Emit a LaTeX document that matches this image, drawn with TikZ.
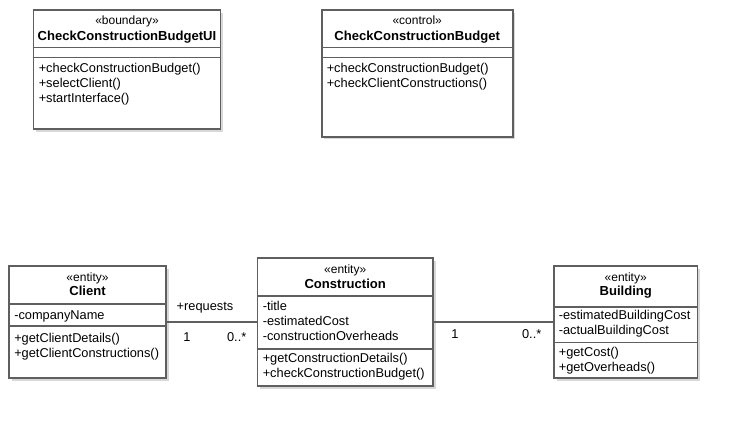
\documentclass[tikz,border=0pt]{standalone}
\usepackage{fontspec}
\setmainfont{Liberation Sans}
\usepackage{tikz}
\usetikzlibrary{fit,shadows}
\definecolor{umlline}{HTML}{5F5F5F}

\begin{document}
\begin{tikzpicture}[
    x=0.75pt, y=-0.75pt,
    classbox/.style={
        draw=umlline,
        line width=1.2pt,
        fill=white,
        inner sep=0pt,
        drop shadow={shadow xshift=2pt, shadow yshift=-2pt, fill=black!25, opacity=0.6}
    },
    divider/.style={draw=umlline, line width=1.2pt},
    stereo/.style={anchor=base, inner sep=0pt, font=\fontsize{9}{10}\selectfont},
    cname/.style={anchor=base, inner sep=0pt, font=\fontsize{9.8}{11}\selectfont\bfseries},
    members/.style={anchor=base west, inner sep=0pt, align=left, font=\fontsize{9.6}{11.25}\selectfont},
    mult/.style={anchor=base, inner sep=0pt, font=\fontsize{9.6}{11}\selectfont},
    assoc/.style={draw=umlline, line width=0.9pt}
]
\fill[white] (0,0) rectangle (737,426);
\useasboundingbox (0,0) rectangle (737,426);

\node[classbox, fit={(33.5,10) (220.5,129)}] (ui) {};
\node[stereo] (uiStereo) at (127,24.5) {«boundary»};
\node[cname] (uiName) at (127,40) {CheckConstructionBudgetUI};
\draw[divider] (ui.west |- 0,47.5) -- (ui.east |- 0,47.5);
\draw[divider] (ui.west |- 0,57.3) -- (ui.east |- 0,57.3);
\node[members] (uiOps) at (38.5,102.5)
  {+checkConstructionBudget()\\+selectClient()\\+startInterface()};

\node[classbox, fit={(321.7,10) (512.7,136.7)}] (ctrl) {};
\node[stereo] (ctrlStereo) at (417.2,24.5) {«control»};
\node[cname] (ctrlName) at (417.2,40) {CheckConstructionBudget};
\draw[divider] (ctrl.west |- 0,47.5) -- (ctrl.east |- 0,47.5);
\draw[divider] (ctrl.west |- 0,57.3) -- (ctrl.east |- 0,57.3);
\node[members] (ctrlOps) at (326.5,87.5)
  {+checkConstructionBudget()\\+checkClientConstructions()};

\node[classbox, fit={(9,266) (166,378)}] (client) {};
\node[stereo] (clientStereo) at (87.5,281) {«entity»};
\node[cname] (clientName) at (87.5,295.5) {Client};
\draw[divider] (client.west |- 0,304) -- (client.east |- 0,304);
\node[members] (clientAttrs) at (14,319) {-companyName};
\draw[divider] (client.west |- 0,326) -- (client.east |- 0,326);
\node[members] (clientOps) at (14,357)
  {+getClientDetails()\\+getClientConstructions()};

\node[classbox, fit={(257.5,258) (433,386)}] (constr) {};
\node[stereo] (constrStereo) at (345.2,273.5) {«entity»};
\node[cname] (constrName) at (345.2,288) {Construction};
\draw[divider] (constr.west |- 0,296) -- (constr.east |- 0,296);
\node[members] (constrAttrs) at (262.5,340.7)
  {-title\\-estimatedCost\\-constructionOverheads};
\draw[divider] (constr.west |- 0,348.7) -- (constr.east |- 0,348.7);
\node[members] (constrOps) at (262.5,377.9)
  {+getConstructionDetails()\\+checkConstructionBudget()};

\node[classbox, fit={(554,266) (697.3,378)}] (bldg) {};
\node[stereo] (bldgStereo) at (625.7,281) {«entity»};
\node[cname] (bldgName) at (625.7,295.5) {Building};
\draw[divider] (bldg.west |- 0,307) -- (bldg.east |- 0,307);
\node[members] (bldgAttrs) at (558.5,334.7)
  {-estimatedBuildingCost\\-actualBuildingCost};
\draw[divider] (bldg.west |- 0,342.3) -- (bldg.east |- 0,342.3);
\node[members] (bldgOps) at (558.5,371.7)
  {+getCost()\\+getOverheads()};

\draw[assoc] (client) -- (constr);
\draw[assoc] (constr) -- (bldg);

\node[mult] (reqRole) at (205,310.5) {+requests};
\node[mult] (reqOne) at (187,341) {1};
\node[mult] (reqMany) at (236.7,341) {0..*};
\node[mult] (hasOne) at (455,338.5) {1};
\node[mult] (hasMany) at (531.7,338.5) {0..*};
\end{tikzpicture}
\end{document}
